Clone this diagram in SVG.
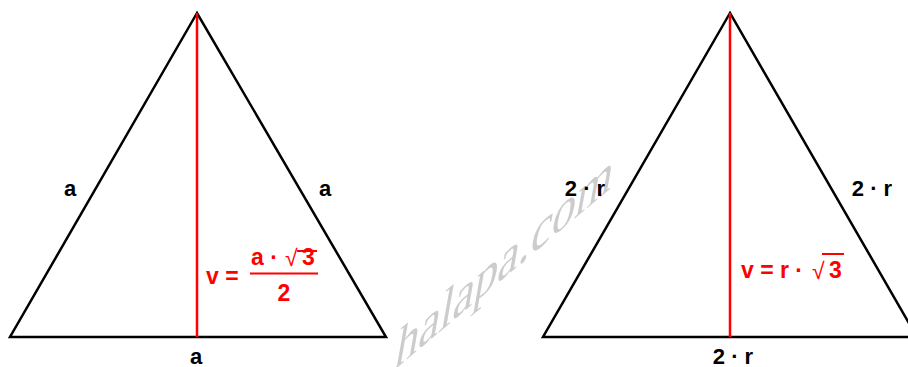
<svg xmlns="http://www.w3.org/2000/svg" width="908" height="367" viewBox="0 0 908 367">
<style>
.tri{fill:none;stroke:#000;stroke-width:2.5;stroke-linejoin:miter}
.alt{stroke:#ff0000;stroke-width:2.5}
.lbl{font-family:"Liberation Sans",Arial,sans-serif;font-weight:bold;font-size:22px;fill:#000;text-anchor:middle}
.f{font-family:"Liberation Sans",Arial,sans-serif;font-weight:bold;font-size:23px;fill:#ff0000}
.rad{font-family:"Liberation Sans",Arial,sans-serif;font-weight:normal;font-size:23px;fill:#ff0000}
.bar{stroke:#ff0000;stroke-width:2}
.wm{font-family:"Liberation Serif","Times New Roman",serif;font-size:62px;fill:#cccccc}
</style>
<rect width="908" height="367" fill="#fff"/>
<text class="wm" transform="matrix(0.766,-0.643,-0.174,0.985,393,371)">halapa.com</text>
<g id="triangle-left">
<polygon class="tri" points="197,13 10,337 386,337"/>
</g>
<g id="triangle-right">
<polygon class="tri" points="730,13 543,337 917,337"/>
</g>
<g id="connectors">
<line class="alt" x1="197" y1="13" x2="197" y2="337"/>
<line class="alt" x1="730" y1="13" x2="730" y2="337"/>
</g>
<g id="labels-left">
<text class="lbl" x="70" y="196">a</text>
<text class="lbl" x="325" y="196">a</text>
<text class="lbl" x="196" y="364">a</text>
</g>
<g id="labels-right">
<text class="lbl" x="585" y="196">2 · r</text>
<text class="lbl" x="872" y="196">2 · r</text>
<text class="lbl" x="733" y="364">2 · r</text>
</g>
<g id="formula-left">
<text class="f" x="206" y="284">v =</text>
<text class="f" x="251" y="265">a ·</text>
<text class="rad" x="285" y="266">√</text>
<line class="bar" x1="297" y1="251" x2="317" y2="251"/>
<text class="f" x="302" y="265">3</text>
<line class="bar" x1="250" y1="273.5" x2="318" y2="273.5"/>
<text class="f" x="284" y="300.5" text-anchor="middle">2</text>
</g>
<g id="formula-right">
<text class="f" x="741" y="278">v = r ·</text>
<text class="rad" x="812" y="279">√</text>
<line class="bar" x1="822" y1="254" x2="844" y2="254"/>
<text class="f" x="829" y="278">3</text>
</g>
</svg>
